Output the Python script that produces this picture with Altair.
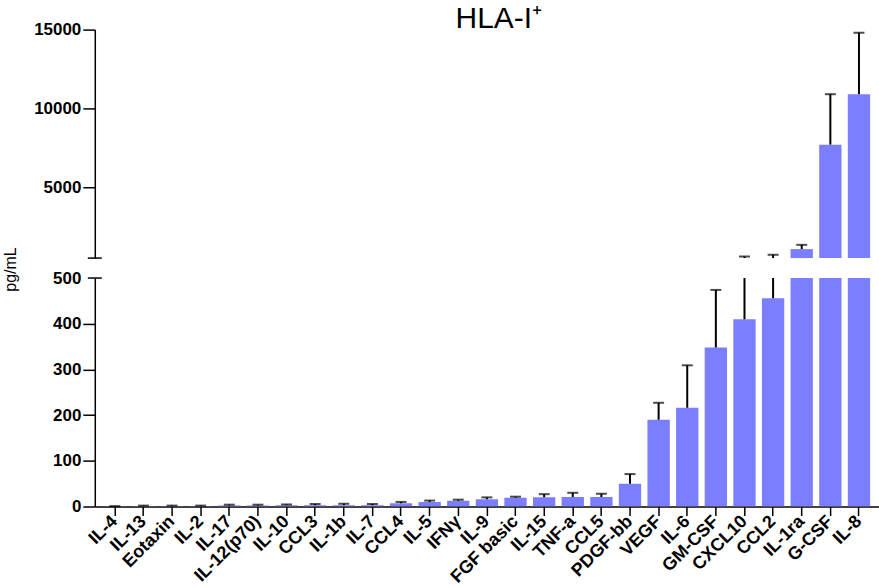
import altair as alt
import pandas as pd

cytokines = ["IL-4", "IL-13", "Eotaxin", "IL-2", "IL-17", "IL-12(p70)", "IL-10", "CCL3",
             "IL-1b", "IL-7", "CCL4", "IL-5", "IFNγ", "IL-9", "FGF basic", "IL-15", "TNF-a",
             "CCL5", "PDGF-bb", "VEGF", "IL-6", "GM-CSF", "CXCL10", "CCL2", "IL-1ra",
             "G-CSF", "IL-8"]
mean_pg = [0.5, 1, 1, 1, 2, 2, 3, 3, 3, 3, 7, 10, 12.5, 16, 19, 20.5, 21, 21, 50,
           190, 216, 348, 410, 456, 1070, 7700, 10900]
upper_pg = [0.8, 2, 2, 2, 4, 4, 4.5, 5.5, 6, 5.5, 10, 13, 15, 20, 21.5, 27, 30, 28, 71,
            227, 309, 474, 600, 710, 1340, 10900, 14800]

top_ticks = [5000, 10000, 15000]
bottom_ticks = [0, 100, 200, 300, 400, 500]
BREAK = 500

df = pd.DataFrame({"cytokine": cytokines, "mean": mean_pg, "upper": upper_pg})

BAR = "#7b7fff"
FONT = "Liberation Sans"
W = 786

xscale = alt.Scale(domain=cytokines, paddingInner=0.22, paddingOuter=0.31)

yaxis_common = dict(
    grid=False, domainColor="black", domainWidth=1.5, format="d",
    tickWidth=1.5, tickSize=12, labelPadding=2,
    labelFont=FONT, labelFontSize=17, labelFontWeight="bold", labelColor="black",
)

# ---------- top segment ----------
top_scale = alt.Scale(domain=[BREAK, 15000], nice=False, zero=False)
tbase = alt.Chart(df).transform_calculate(lo=str(BREAK))

top_bars = tbase.transform_filter(f"datum.mean > {BREAK}").mark_bar(color=BAR).encode(
    x=alt.X("cytokine:N", scale=xscale, axis=None),
    y=alt.Y("mean:Q", scale=top_scale,
            axis=alt.Axis(values=top_ticks, title=None, tickColor="black", **yaxis_common)),
    y2="lo:Q",
)
top_err = tbase.transform_filter(f"datum.upper > {BREAK}").transform_calculate(
    st=f"max(datum.mean, {BREAK})"
).mark_rule(color="black", strokeWidth=2).encode(
    x=alt.X("cytokine:N", scale=xscale, axis=None),
    y=alt.Y("upper:Q", scale=top_scale),
    y2="st:Q",
)
top_cap = tbase.transform_filter(f"datum.upper > {BREAK}").mark_tick(
    color="black", thickness=2, size=11, orient="horizontal"
).encode(
    x=alt.X("cytokine:N", scale=xscale, axis=None),
    y=alt.Y("upper:Q", scale=top_scale),
)
top_break = alt.Chart(df).mark_rule(color="black", strokeWidth=1.5).encode(
    x=alt.value(-7), x2=alt.value(7), y=alt.datum(BREAK, scale=top_scale)
).transform_filter("datum.cytokine == 'IL-4'")

top = alt.layer(top_bars, top_err, top_cap, top_break).properties(width=W, height=229)

# ---------- bottom segment ----------
bot_scale = alt.Scale(domain=[0, BREAK], nice=False)
bbase = alt.Chart(df)

bot_axis = alt.Axis(
    values=bottom_ticks,
    tickColor={"condition": {"test": f"datum.value == {BREAK}", "value": "transparent"},
               "value": "black"},
    title="pg/mL", titleFont=FONT, titleFontSize=16, titleFontWeight="normal",
    titleColor="black", titleX=-84, titleY=-9, titleAlign="center",
    titleBaseline="middle", titleAngle=-90,
    **yaxis_common,
)
bot_bars = bbase.mark_bar(color=BAR, clip=True).encode(
    x=alt.X("cytokine:N", scale=xscale, axis=alt.Axis(
        title=None, labelAngle=-45, labelAlign="right", labelBaseline="middle",
        labelFont=FONT, labelFontSize=18, labelFontWeight="bold", labelColor="black",
        domainColor="black", domainWidth=1.5, tickColor="black", tickWidth=1.5,
        tickSize=9, labelPadding=3)),
    y=alt.Y("mean:Q", scale=bot_scale, axis=bot_axis),
)
bot_err = bbase.mark_rule(color="black", strokeWidth=2, clip=True).encode(
    x=alt.X("cytokine:N", scale=xscale),
    y=alt.Y("mean:Q", scale=bot_scale),
    y2="upper:Q",
)
bot_cap = bbase.transform_filter(f"datum.upper <= {BREAK}").mark_tick(
    color="black", thickness=2, size=11, orient="horizontal"
).encode(
    x=alt.X("cytokine:N", scale=xscale),
    y=alt.Y("upper:Q", scale=bot_scale),
)
bot_break = alt.Chart(df).mark_rule(color="black", strokeWidth=1.5).encode(
    x=alt.value(-7), x2=alt.value(7), y=alt.datum(BREAK, scale=bot_scale)
).transform_filter("datum.cytokine == 'IL-4'")

bottom = alt.layer(bot_bars, bot_err, bot_cap, bot_break).properties(width=W, height=229)

chart = alt.vconcat(top, bottom, spacing=20, bounds="flush").properties(
    title=alt.Title("HLA-I⁺", fontSize=30, fontWeight="normal", font=FONT,
                    color="black", anchor="middle", frame="group", offset=-13, dx=12),
    padding={"left": 3, "top": 3, "right": 0, "bottom": 0},
).configure_view(stroke=None)

chart.save("out.html", embed_options={"renderer": "svg", "actions": False})
